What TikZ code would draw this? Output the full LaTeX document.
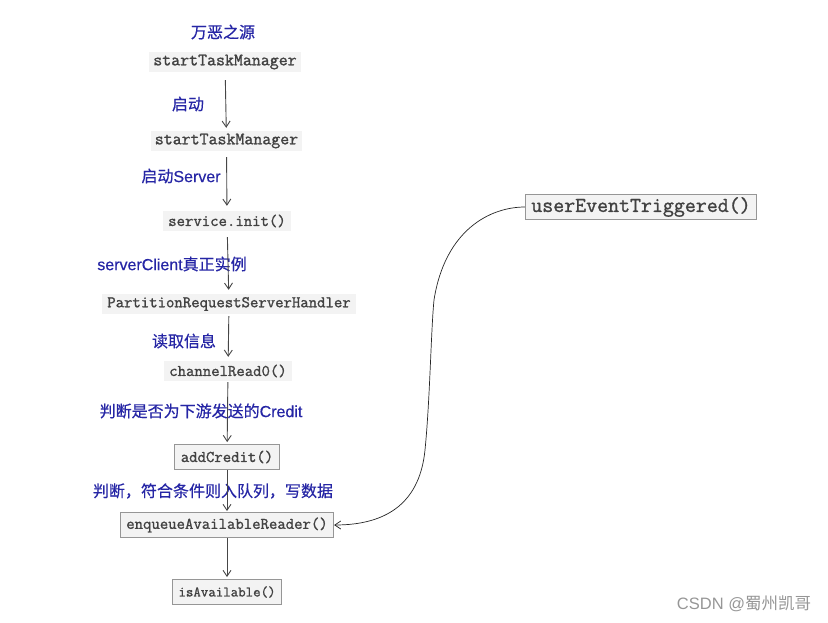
\documentclass[tikz,border=0pt]{standalone}
\usepackage{fontspec}
\setmainfont{Liberation Sans}
\newfontfamily\cjk{Noto Sans CJK SC}[FakeBold=0.5]
\newfontfamily\lsans{Liberation Sans}[FakeBold=0.5]
\newfontfamily\wmcjk{Noto Sans CJK SC}
\newfontfamily\lmmono{Latin Modern Mono}[FakeBold=1.3]
\newcommand\codefont[1]{\lmmono\fontsize{#1}{#1}\selectfont}
\usetikzlibrary{arrows.meta}
\definecolor{lblue}{RGB}{38,38,165}
\definecolor{codegray}{RGB}{65,65,65}
\definecolor{bgray}{RGB}{243,243,243}
\definecolor{bord}{RGB}{150,150,150}
\definecolor{arrgray}{RGB}{70,70,70}
\definecolor{wmgray}{RGB}{150,150,150}
\begin{document}
\begin{tikzpicture}[x=1pt,y=-1pt,
  code/.style={font=\codefont{16.3}, text=codegray, fill=bgray, inner xsep=5pt, inner ysep=0pt, minimum height=20pt},
  codebox/.style={code, draw=bord, line width=0.8pt, inner xsep=6pt, minimum height=25pt},
  lbl/.style={font=\lsans\fontsize{16}{18}\selectfont, text=lblue, inner sep=0pt},
  arr/.style={draw=arrgray, line width=0.9pt, -{Straight Barb[length=6pt,width=8pt]}},
  curv/.style={draw=black!85, line width=0.7pt, -{Straight Barb[length=6pt,width=8pt]}}]
\useasboundingbox (0,0) rectangle (828,622);

% labels
\node[lbl] (l0) at (223,32) {{\cjk 万恶之源}};
\node[lbl] (l1) at (188,104) {{\cjk 启动}};
\node[lbl] (l2) at (181,176) {{\cjk 启动}Server};
\node[lbl] (l3) at (172,264) {serverClient{\cjk 真正实例}};
\node[lbl] (l4) at (184,341) {{\cjk 读取信息}};
\node[lbl] (l5) at (201,411) {{\cjk 判断是否为下游发送的}Credit};
\node[lbl] (l6) at (213,491) {{\cjk 判断，符合条件则入队列，写数据}};

% code nodes
\node[code, font=\codefont{17.4}, inner xsep=4pt] (st1) at (225,62) {startTaskManager};
\node[code, font=\codefont{17.4}, inner xsep=4pt] (st2) at (226.5,141) {startTaskManager};
\node[code] (svc) at (227,221) {service.init()};
\node[code] (prsh) at (229,304) {PartitionRequestServerHandler};
\node[code] (cr) at (228,371) {channelRead0()};
\node[codebox] (ac) at (227,457) {addCredit()};
\node[codebox] (ea) at (227,525) {enqueueAvailableReader()};
\node[codebox, font=\codefont{14.5}] (ia) at (227,592) {isAvailable()};
\node[codebox, font=\codefont{21.3}, minimum height=25pt] (ue) at (641,207) {userEventTriggered()};

% arrows
\draw[arr, shorten <=8pt, shorten >=3pt] (st1) -- (st2);
\draw[arr, shorten <=6pt, shorten >=5pt] (st2) -- (svc);
\draw[arr, shorten <=6pt, shorten >=4pt] (svc) -- (prsh);
\draw[arr, shorten <=2pt, shorten >=4pt] (prsh) -- (cr);
\draw[arr, shorten <=1pt, shorten >=2pt] (cr) -- (ac);
\draw[arr, shorten >=1pt] (ac) -- (ea);
\draw[arr, shorten >=2pt] (ea) -- (ia);

% curved connector
\draw[curv] (ue.west) .. controls (490,207) and (445,230) .. (434,300)
  .. controls (431,330) and (430,400) .. (425,450)
  .. controls (420,500) and (390,525) .. (ea.east);

% watermark
\node[font=\fontsize{16.5}{18}\selectfont, text=wmgray, inner sep=0pt] (wm) at (744,604) {CSDN @{\wmcjk 蜀州凯哥}};
\end{tikzpicture}
\end{document}
